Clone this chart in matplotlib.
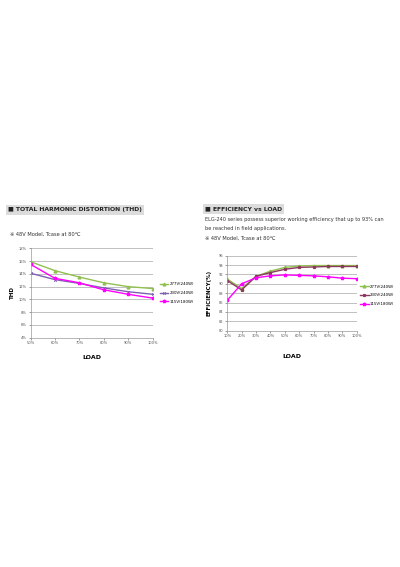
import matplotlib
matplotlib.use('Agg')
import matplotlib.pyplot as plt

plt.rcParams['font.family'] = ['DejaVu Sans', 'Noto Sans CJK SC']

# THD data (%)
thd_load = ['50%', '60%', '70%', '80%', '90%', '100%']
thd_277 = [15.9, 14.5, 13.5, 12.6, 12.0, 11.7]
thd_230 = [14.1, 13.1, 12.5, 11.8, 11.2, 10.8]
thd_115 = [15.5, 13.3, 12.6, 11.5, 10.8, 10.2]
thd_ticks = [4, 6, 8, 10, 12, 14, 16, 18]

# Efficiency data (%)
eff_load = ['10%', '20%', '30%', '40%', '50%', '60%', '70%', '80%', '90%', '100%']
eff_277 = [91.0, 89.0, 91.6, 92.7, 93.5, 93.8, 93.9, 93.9, 93.9, 93.9]
eff_230 = [90.7, 88.7, 91.6, 92.4, 93.1, 93.5, 93.6, 93.7, 93.7, 93.7]
eff_115 = [86.5, 90.0, 91.3, 91.7, 91.9, 91.8, 91.7, 91.5, 91.2, 91.1]
eff_ticks = [80, 82, 84, 86, 88, 90, 92, 94, 96]

labels = ['277V(240W)', '230V(240W)', '115V(180W)']

W, H = 400, 567
fig = plt.figure(figsize=(4, 5.67), dpi=100)


def px_axes(x0, y0, x1, y1):
    return fig.add_axes([x0 / W, 1 - y1 / H, (x1 - x0) / W, (y1 - y0) / H])


def style(ax, ticks, xlabels):
    ax.set_yticks(ticks)
    ax.set_xticks(range(len(xlabels)))
    ax.set_xticklabels(xlabels)
    ax.set_xlim(0, len(xlabels) - 1)
    ax.set_ylim(ticks[0], ticks[-1])
    ax.tick_params(labelsize=2.6, colors='#555555', length=1.2, width=0.4, pad=1.5)
    for s in ['top', 'right']:
        ax.spines[s].set_visible(False)
    for s in ['left', 'bottom']:
        ax.spines[s].set_color('#999999')
        ax.spines[s].set_linewidth(0.5)
    ax.grid(axis='y', color='#b5b5b5', linewidth=0.6)
    ax.set_axisbelow(True)


def title(x, y, text):
    fig.text(x / W, 1 - y / H, text, fontsize=4.4, fontweight='bold', color='#222222',
             va='center', ha='left',
             bbox=dict(boxstyle='square,pad=0.4', fc='#dcdcdc', ec='none'))


# ---- THD chart ----
ax1 = px_axes(30.5, 248.3, 152.5, 337.7)
x = range(len(thd_load))
ax1.plot(x, thd_277, color='#92c050', marker='^', ms=2, lw=1.0, label=labels[0])
ax1.plot(x, thd_230, color='#7f60b0', marker='x', ms=2, mew=0.6, lw=1.0, label=labels[1])
ax1.plot(x, thd_115, color='#ff00ff', marker='*', ms=2.5, lw=1.0, label=labels[2])
style(ax1, thd_ticks, thd_load)
ax1.set_yticklabels([f'{t}%' for t in thd_ticks])
ax1.set_ylabel('THD', fontsize=4, fontweight='bold', labelpad=3)
ax1.set_xlabel('LOAD', fontsize=4.5, fontweight='bold', labelpad=7)
ax1.legend(loc='center left', bbox_to_anchor=(1.03, 0.50), frameon=False,
           fontsize=2.8, handlelength=2.2, labelspacing=1.2, handletextpad=0.3)

title(8, 210, '■ TOTAL HARMONIC DISTORTION (THD)')
fig.text(10 / W, 1 - 234 / H, '※ 48V Model, Tcase at 80℃', fontsize=3.7, color='#333333',
         va='center', family=['DejaVu Sans', 'Noto Sans CJK SC'])

# ---- Efficiency chart ----
ax2 = px_axes(227.3, 255.7, 356.7, 330.7)
x = range(len(eff_load))
ax2.plot(x, eff_277, color='#92c050', marker='^', ms=2, lw=1.0, label=labels[0])
ax2.plot(x, eff_230, color='#8b3a5e', marker='s', ms=1.3, lw=1.0, label=labels[1])
ax2.plot(x, eff_115, color='#ff00ff', marker='*', ms=2.5, lw=1.0, label=labels[2])
style(ax2, eff_ticks, eff_load)
ax2.set_ylabel('EFFICIENCY(%)', fontsize=4, fontweight='bold', labelpad=5)
ax2.set_xlabel('LOAD', fontsize=4.5, fontweight='bold', labelpad=11)
ax2.legend(loc='center left', bbox_to_anchor=(1.0, 0.47), frameon=False,
           fontsize=2.8, handlelength=2.2, labelspacing=1.2, handletextpad=0.3)

title(205, 209, '■ EFFICIENCY vs LOAD')
fig.text(205 / W, 1 - 220 / H, 'ELG-240 series possess superior working efficiency that up to 93% can',
         fontsize=3.6, color='#333333', va='center')
fig.text(205 / W, 1 - 229 / H, 'be reached in field applications.',
         fontsize=3.6, color='#333333', va='center')
fig.text(205 / W, 1 - 238 / H, '※ 48V Model, Tcase at 80℃', fontsize=3.7, color='#333333',
         va='center', family=['DejaVu Sans', 'Noto Sans CJK SC'])

fig.savefig('out.png', dpi=100, facecolor='white')
